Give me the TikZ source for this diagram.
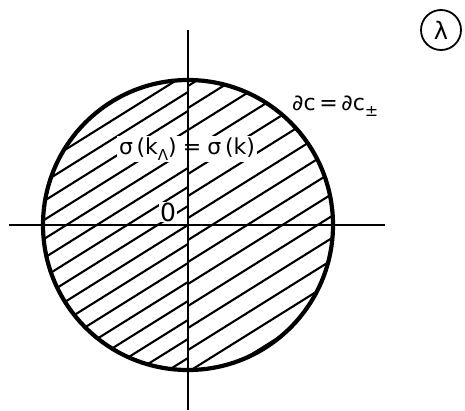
\documentclass[tikz,border=0pt]{standalone}
\usepackage{fontspec}
\setmainfont{DejaVu Sans}
\usetikzlibrary{calc}
\begin{document}
\begin{tikzpicture}[x=1pt,y=-1pt,
  hatch/.style={line width=2.1pt},
  axis/.style={line width=1.9pt},
  rim/.style={line width=4.2pt},
  lbl/.style={font=\fontsize{22}{24}\selectfont, inner sep=2pt},
  lblw/.style={lbl, fill=white}]
\useasboundingbox (0,0) rectangle (465,410);
\coordinate (O) at (188,225);
% hatching, left half
\begin{scope}
\clip (O) circle (145);
\clip (40,70) rectangle (188,380);
\foreach \k in {-12,...,10}{
  \draw[hatch] ($(188,244)+(0,19*\k)+(-320,200)$) -- ($(188,244)+(0,19*\k)+(320,-200)$);
}
\end{scope}
% hatching, right half
\begin{scope}
\clip (O) circle (145);
\clip (188,70) rectangle (340,380);
\foreach \k in {-10,...,9}{
  \draw[hatch] ($(188,240)+(0,22*\k)+(-320,200)$) -- ($(188,240)+(0,22*\k)+(320,-200)$);
}
\end{scope}
% labels breaking the hatch
\node[lblw] (sig) at (187,149) {σ\,(k\raisebox{-0.45ex}{\fontsize{15}{16}\selectfont Λ})\;=\;σ\,(k)};
\node[lblw, font=\fontsize{25}{26}\selectfont, inner sep=1pt] (zero) at (168,212) {0};
% axes
\coordinate (xl) at (9,225);
\coordinate (xr) at (385,225);
\coordinate (yt) at (188,30);
\coordinate (yb) at (188,410);
\draw[axis] (xl) -- (xr);
\draw[axis] (yt) -- (yb);
% circle
\draw[rim] (O) circle (145);
% boundary label
\node[lbl, anchor=west] (dc) at (290,106) {∂c\,=\,∂c\raisebox{-0.5ex}{\fontsize{16}{17}\selectfont ±}};
% lambda
\node[draw, circle, line width=1.8pt, minimum size=40pt, inner sep=0pt, font=\fontsize{24}{26}\selectfont] (lam) at (441,30) {λ};
\end{tikzpicture}
\end{document}
